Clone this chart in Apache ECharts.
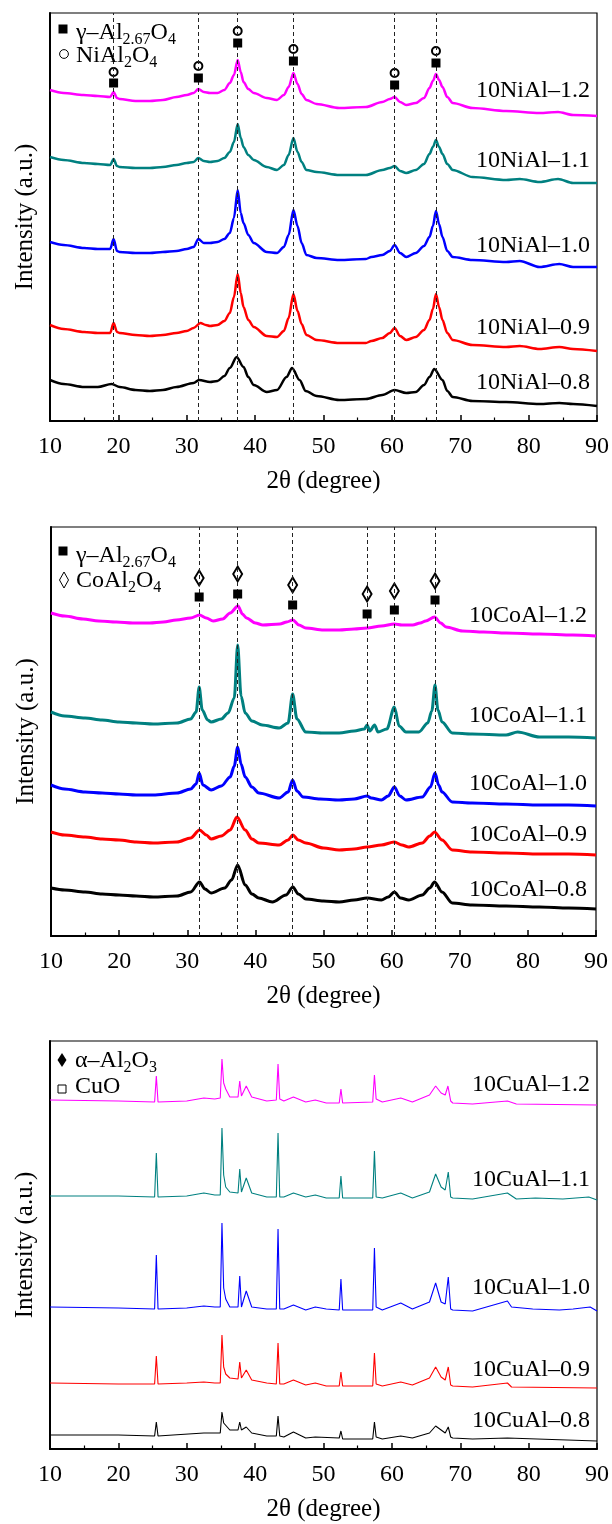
<!DOCTYPE html>
<html><head><meta charset="utf-8">
<script src="https://cdn.jsdelivr.net/npm/echarts@6/dist/echarts.min.js"></script>
<style>html,body{margin:0;padding:0;background:#fff}#c{width:612px;height:1524px}</style>
</head><body><div id="c"></div><script>
const FONT = '"Liberation Serif","Times New Roman",serif';
const xTitle = '2θ (degree)';
const yTitle = 'Intensity (a.u.)';

// ---------- Panel 1 : NiAl ----------
const niNames = ['10NiAl–1.2','10NiAl–1.1','10NiAl–1.0','10NiAl–0.9','10NiAl–0.8'];
const ni12 = [[10,331],[12,328],[14.9,326],[17,325],[18.8,324],[19.3,329],[19.8,323],[20.2,322],[22.5,320],[24.6,320],[26.5,321],[28.5,324],[30,326],[31,328],[31.7,332],[32.5,329],[33.4,328],[34.5,328],[35.5,331],[36.3,338],[36.9,346],[37.45,361],[37.9,349],[38.3,339],[39,332],[39.8,328],[41.7,323],[43.2,321],[44.2,326],[44.9,334],[45.6,348],[46.2,337],[46.8,327],[47.5,321],[49,317],[52.3,313],[56.2,314],[58.6,319],[59.7,322],[60.4,324],[61.2,319],[62.1,316],[63.5,318],[64.7,323],[65.5,333],[66,340],[66.45,347],[66.9,341],[67.4,334],[68.1,324],[68.9,318],[71.8,313],[76.7,310],[81.6,308],[84.3,309],[86.5,306],[90,305]];
const ni11 = [[10,264],[12,261],[15,258],[17,257],[18.8,256],[19.3,262],[19.8,255],[20.2,254],[22.5,253],[24.6,253],[26.5,254],[28.5,256],[30,258],[31,259],[31.7,263],[32.5,260],[33.4,259],[34.5,260],[35.5,263],[36.3,269],[36.9,279],[37.45,297],[37.9,283],[38.3,274],[39,266],[39.8,261],[41.7,254],[43.2,251],[44.2,256],[44.9,266],[45.6,283],[46.2,269],[46.8,259],[47.5,251],[49,249],[52.3,246],[56.2,246],[58.6,251],[59.7,253],[60.4,255],[61.2,250],[62.1,248],[63.5,251],[64.7,257],[65.5,267],[66,274],[66.45,281],[66.9,274],[67.4,267],[68.1,257],[68.9,251],[71.8,244],[76.7,241],[78.7,242],[81.6,239],[84.3,242],[86.5,238],[90,238]];
const ni10 = [[10,179],[12,176],[15,173],[17,172],[18.8,172],[19.3,182],[19.8,170],[20.2,169],[22.5,168],[24.6,168],[26.5,169],[28.5,170],[30,172],[31,174],[31.7,182],[32.5,178],[33.4,178],[34.5,179],[35.5,182],[36.3,188],[36.9,203],[37.45,231],[37.9,208],[38.3,198],[39,186],[39.8,178],[41.7,169],[43.2,168],[44.2,174],[44.9,186],[45.6,211],[46.2,195],[46.8,178],[47.5,166],[49,163],[52.3,161],[56.2,162],[57,164],[58.6,166],[59.7,170],[60.4,176],[61.2,168],[62.1,164],[63.5,168],[64.7,175],[65.5,184],[66,195],[66.45,210],[66.9,197],[67.4,184],[68.1,170],[68.9,164],[71.8,161],[76.7,159],[78.7,160],[81.6,154],[84.5,157],[86.5,154],[90,154]];
const ni09 = [[10,96],[12,92],[15,89],[17,88],[18.8,88],[19.3,98],[19.8,89],[20.2,88],[22.5,86],[24.6,85],[26.5,86],[28.5,88],[30,90],[31,93],[32,98],[32.8,96],[33.4,95],[34.5,96],[35.5,100],[36.3,108],[36.9,124],[37.45,147],[37.9,128],[38.3,114],[39,101],[39.8,94],[41.7,85],[43.2,84],[44.2,90],[44.9,103],[45.6,127],[46.2,110],[46.8,97],[47.5,86],[49,81],[52.3,78],[56.2,78],[57,80],[58.6,83],[59.7,88],[60.4,93],[61.2,85],[62.1,81],[63.5,84],[64.7,91],[65.5,101],[66,112],[66.45,127],[66.9,114],[67.4,101],[68.1,88],[68.9,81],[71.8,76],[76.7,74],[78.7,75],[81.6,72],[84.5,74],[86.5,72],[90,70]];
const ni08 = [[10,41],[12,37],[15,34],[17,34],[19,37],[20.2,34],[22.5,31],[24.6,30],[26.5,31],[28.5,34],[31,38],[31.8,41],[33.4,39],[34.5,40],[35.5,45],[36.3,53],[37.3,64],[38.3,54],[39,44],[39.8,36],[41.7,29],[43.2,31],[44.6,44],[45.4,53],[46.5,41],[47.4,30],[49,25],[52.3,21],[56.2,22],[58.6,26],[60.4,31],[62.1,28],[63.5,29],[64.7,36],[65.5,44],[66.2,52],[67.4,41],[68.1,30],[68.9,24],[71.8,20],[76.7,19],[81.6,17],[84.5,18],[86.5,17],[90,15]];
const niPeaks = [19.3, 31.7, 37.45, 45.6, 60.4, 66.45];
const niSquareY = [338, 343, 378, 360, 336, 358];
const niCircleY = [349, 355, 390, 372, 348, 370];

// ---------- Panel 2 : CoAl ----------
const coNames = ['10CoAl–1.2','10CoAl–1.1','10CoAl–1.0','10CoAl–0.9','10CoAl–0.8'];
const co12 = [[10,323],[12,320],[14.7,317],[17,315],[19.6,314],[22,313],[24.5,313],[26.5,314],[28.4,316],[30.5,318],[31.8,321],[32.8,318],[33.8,315],[35.2,317],[36.3,323],[37.45,330],[38.1,322],[38.7,318],[40,313],[41.1,311],[43.6,312],[44.6,314],[45.5,316],[46.4,311],[47.4,308],[50,306],[52.3,306],[54.5,307],[56.4,308],[58.5,310],[60.4,312],[61.5,311],[63.1,311],[64.2,313],[65,315],[66.3,319],[67.2,313],[68,309],[70.4,305],[73.5,304],[76.8,303],[81.7,302],[86.6,301],[90,300]];
const co11 = [[10,224],[12,220],[15,218],[17.5,216],[20,214],[22.5,213],[25,212],[28.5,213],[30.5,217],[31.3,224],[31.75,249],[32.2,226],[33,216],[33.5,214],[35,217],[36,223],[36.9,238],[37.4,291],[37.9,240],[38.5,223],[39.5,215],[41,211],[43.5,208],[44.8,213],[45.47,242],[46.1,217],[47.4,204],[50,203],[52.3,203],[54.5,205],[56,207],[56.4,211],[56.8,205],[57.5,211],[58,204],[59.3,207],[60.4,229],[61.1,210],[62.1,204],[64,204],[65.3,213],[65.9,225],[66.37,251],[66.8,226],[67.4,214],[68.9,203],[71.8,202],[76.8,201],[78.5,204],[81.7,199],[86,199],[90,198]];
const co10 = [[10,151],[12,147],[15,144],[17.5,143],[20,142],[22.5,141],[25,141],[28.5,143],[30.5,147],[31.3,152],[31.75,163],[32.3,151],[33.5,146],[35,150],[36.3,159],[36.9,170],[37.4,189],[37.9,172],[38.5,159],[39.5,149],[40.5,143],[43.5,138],[44.8,144],[45.47,156],[46.1,145],[47,139],[49.5,137],[52.3,136],[54.5,137],[56.4,140],[57,138],[58.5,136],[59.5,140],[60.4,149],[61.2,140],[62.1,136],[64.5,139],[65.7,149],[66.37,163],[66.9,151],[67.4,144],[68.9,134],[71.8,133],[76.8,132],[81.7,131],[86,131],[90,130]];
const co09 = [[10,104],[12,101],[15,99],[17.5,97],[20,96],[22.5,94],[25,93],[28.5,94],[30.5,98],[31.8,106],[32.8,101],[33.5,97],[35,100],[36.3,106],[37.3,119],[38.5,106],[39.5,97],[40.5,93],[43.5,91],[44.8,96],[45.5,101],[46.3,96],[47.4,93],[50,88],[52.3,86],[54.5,87],[56.4,89],[58.5,91],[60.4,94],[61.5,91],[62.5,89],[64.5,93],[65.6,100],[66.3,104],[67.4,96],[68.9,86],[71.8,84],[76.8,83],[81.7,82],[86,82],[90,81]];
const co08 = [[10,48],[12,46],[15,44],[17.5,42],[20,41],[22.5,40],[25,39],[28.5,40],[30.5,44],[31.8,54],[32.6,47],[33.5,43],[35.5,48],[36.5,56],[37.4,71],[38.5,51],[39.5,42],[40.5,38],[42.5,34],[44.5,41],[45.5,49],[46.3,42],[47.4,37],[50,35],[52.3,34],[54.5,36],[56.4,38],[58.5,36],[59.5,39],[60.4,44],[61.3,38],[62.5,36],[64.5,41],[65.6,48],[66.3,54],[67.4,44],[68.9,33],[71.8,31],[76.8,30],[81.7,29],[86,28],[90,27]];
const coPeaks = [31.75, 37.4, 45.47, 56.4, 60.4, 66.37];
const coSquareY = [339, 342, 331, 322, 326, 336];
const coDiamondY = [358, 362, 351, 342, 345, 355];

// ---------- Panel 3 : CuAl ----------
const cuNames = ['10CuAl–1.2','10CuAl–1.1','10CuAl–1.0','10CuAl–0.9','10CuAl–0.8'];
const cu12 = [[10,349],[20,348],[25.3,347],[25.55,373],[25.8,347],[30,348],[32.5,351],[34.1,350],[34.9,351],[35.15,390],[35.4,366],[35.7,360],[36.3,352],[37.5,352],[37.75,368],[38,353],[38.7,363],[39.5,352],[41.7,348],[43.1,349],[43.35,385],[43.6,350],[44.2,348],[45.6,352],[47.4,347],[48.8,349],[50.4,346],[52.3,346],[52.55,360],[52.8,346],[57.2,347],[57.45,374],[57.7,350],[58.6,347],[61.3,351],[63,347],[65.5,354],[66.4,363],[67.2,356],[67.8,354],[68.2,363],[68.6,348],[68.9,346],[71.8,345],[76.9,348],[78.2,345],[90,344]];
const cu11 = [[10,253],[20,253],[25.3,252],[25.55,296],[25.8,252],[30,253],[32.5,256],[34.1,254],[34.9,254],[35.15,321],[35.4,274],[35.7,262],[36.3,257],[37.5,256],[37.75,280],[38,257],[38.7,271],[39.5,256],[41.7,252],[43.1,252],[43.35,316],[43.6,252],[44.2,252],[45.6,256],[47.4,252],[48.8,254],[50.4,251],[52.3,251],[52.55,273],[52.8,251],[57.2,251],[57.45,298],[57.7,252],[58.6,251],[61.3,256],[63,251],[65.5,257],[66.4,275],[67.2,262],[67.8,259],[68.25,277],[68.6,252],[68.9,251],[71.8,250],[76.9,256],[78.2,250],[81,251],[85,250],[88.8,252],[90,249]];
const cu10 = [[10,142],[20,141],[25.3,140],[25.55,194],[25.8,140],[30,141],[32.5,143],[34.1,142],[34.9,142],[35.15,226],[35.4,161],[35.7,150],[36.3,142],[37.5,142],[37.75,173],[38,142],[38.7,158],[39.5,142],[41.7,140],[43.1,140],[43.35,220],[43.6,140],[44.2,140],[45.6,144],[47.4,139],[48.8,142],[50.4,140],[52.3,139],[52.55,170],[52.8,139],[57.2,139],[57.45,201],[57.7,142],[58.6,139],[61.3,146],[63,140],[65.5,147],[66.4,166],[67.2,147],[67.8,145],[68.25,172],[68.6,140],[68.9,139],[71.8,138],[76.9,148],[77.5,142],[80.6,140],[84.5,139],[86.5,140],[89,142],[90,138]];
const cu09 = [[10,66],[20,65],[25.3,65],[25.55,93],[25.8,65],[30,66],[32.5,67],[34.1,66],[34.9,66],[35.15,114],[35.4,82],[35.7,75],[36.3,71],[37.5,70],[37.75,87],[38,71],[38.7,79],[39.5,69],[41.7,66],[43.1,65],[43.35,106],[43.6,65],[44.2,65],[45.6,69],[47.4,64],[48.8,66],[50.4,63],[52.3,63],[52.55,77],[52.8,63],[57.2,63],[57.45,96],[57.7,65],[58.6,63],[61.3,67],[63,64],[65.5,71],[66.4,82],[67.2,72],[67.8,69],[68.25,82],[68.6,64],[68.9,63],[71.8,62],[76.9,66],[77.5,62],[90,61]];
const cu08 = [[10,14],[20,14],[25.3,13],[25.55,27],[25.8,13],[28,14],[32.5,16],[34.1,16],[34.9,16],[35.15,37],[35.4,26],[36.3,19],[37.5,19],[37.75,27],[38,19],[38.7,22],[39.5,16],[41.7,13],[43.1,13],[43.35,33],[43.6,13],[44.2,12],[45.6,17],[47.4,11],[48.8,12],[52.3,11],[52.55,18],[52.8,10],[57.2,10],[57.45,27],[57.7,12],[58.6,10],[61.3,13],[63,11],[65.5,16],[66.4,23],[67.2,19],[67.8,16],[68.25,22],[68.6,12],[68.9,11],[71.8,10],[76.9,11],[90,8]];

const colors = ['#ff00ff','#008080','#0000ff','#ff0000','#000000'];

const grids = [
  {left:50, top:13, width:547, height:408},
  {left:51, top:527, width:545, height:409},
  {left:50, top:1041, width:547, height:408}
];

function xAx(i){
  return {gridIndex:i, type:'value', min:10, max:90, interval:10,
    axisLine:{show:true, onZero:false, lineStyle:{color:'#000', width:2}},
    axisTick:{show:true, inside:true, length:6, lineStyle:{color:'#000', width:1.5}},
    minorTick:{show:true, splitNumber:2, length:3.5, lineStyle:{color:'#000', width:1.2}},
    axisLabel:{fontSize:24, fontFamily:FONT, color:'#000', margin:14},
    splitLine:{show:false},
    name:xTitle, nameLocation:'middle', nameGap:48,
    nameTextStyle:{fontSize:25, fontFamily:FONT, color:'#000'}};
}
function yAx(i, h){
  return {gridIndex:i, type:'value', min:0, max:h,
    axisLine:{show:true, onZero:false, lineStyle:{color:'#000', width:2}},
    axisTick:{show:false}, axisLabel:{show:false}, splitLine:{show:false},
    name:yTitle, nameLocation:'middle', nameGap:12, nameRotate:90,
    nameTextStyle:{fontSize:25, fontFamily:FONT, color:'#000'}};
}
function curve(name, data, color, gi, w, smooth){
  return {name, type:'line', xAxisIndex:gi, yAxisIndex:gi, data, symbol:'none',
    smooth: smooth, smoothMonotone:'x',
    lineStyle:{color, width:w}, itemStyle:{color}, z:3};
}
const series = [];
[ni12,ni11,ni10,ni09,ni08].forEach((d,k)=>series.push(curve(niNames[k], d, colors[k], 0, 2.5, 0.3)));
[co12,co11,co10,co09,co08].forEach((d,k)=>series.push(curve(coNames[k], d, colors[k], 1, 3, 0.3)));
[cu12,cu11,cu10,cu09,cu08].forEach((d,k)=>series.push(curve(cuNames[k], d, colors[k], 2, 1.1, false)));

const dashStyle = {type:[4,3], color:'#222', width:1};
series.push({type:'scatter', xAxisIndex:0, yAxisIndex:0, symbol:'rect', symbolSize:9,
  itemStyle:{color:'#000', opacity:1}, data:niPeaks.map((x,k)=>[x,niSquareY[k]]), z:5});
series.push({type:'scatter', xAxisIndex:0, yAxisIndex:0, symbol:'emptyCircle', symbolSize:8,
  itemStyle:{color:'#000', borderWidth:0.8, opacity:1}, data:niPeaks.map((x,k)=>[x,niCircleY[k]]), z:2,
  markLine:{silent:true, symbol:'none', label:{show:false}, lineStyle:dashStyle, animation:false,
    data:niPeaks.map(x=>({xAxis:x}))}});
series.push({type:'scatter', xAxisIndex:1, yAxisIndex:1, symbol:'rect', symbolSize:9,
  itemStyle:{color:'#000', opacity:1}, data:coPeaks.map((x,k)=>[x,coSquareY[k]]), z:5});
series.push({type:'scatter', xAxisIndex:1, yAxisIndex:1, symbol:'emptyDiamond', symbolSize:[9,15],
  itemStyle:{color:'#000', borderWidth:0.8, opacity:1}, data:coPeaks.map((x,k)=>[x,coDiamondY[k]]), z:2,
  markLine:{silent:true, symbol:'none', label:{show:false}, lineStyle:dashStyle, animation:false,
    data:coPeaks.map(x=>({xAxis:x}))}});

const rich = {
  a:{fontSize:24, fontFamily:FONT, fill:'#000', color:'#000'},
  b:{fontSize:16, fontFamily:FONT, fill:'#000', color:'#000', padding:[13,0,0,0]}
};
function label(x, y, text){
  return {type:'text', x, y, z:10, style:{text, fontSize:24, fontFamily:FONT, fill:'#000', align:'right', verticalAlign:'middle'}};
}
function legText(x, y, text){
  return {type:'text', x, y, z:10, style:{text, rich, fill:'#000', align:'left', verticalAlign:'middle'}};
}
const graphic = [
  label(590, 91, niNames[0]), label(590, 161, niNames[1]), label(590, 246, niNames[2]), label(590, 328, niNames[3]), label(590, 383, niNames[4]),
  label(587, 616, coNames[0]), label(587, 716, coNames[1]), label(587, 784, coNames[2]), label(587, 835, coNames[3]), label(587, 890, coNames[4]),
  label(590, 1085, cuNames[0]), label(590, 1180, cuNames[1]), label(590, 1288, cuNames[2]), label(590, 1370, cuNames[3]), label(590, 1421, cuNames[4]),
  // legend panel 1
  {type:'rect', shape:{x:58.5, y:24.5, width:9, height:9}, style:{fill:'#000'}},
  legText(76, 33, '{a|γ–Al}{b|2.67}{a|O}{b|4}'),
  {type:'circle', shape:{cx:64, cy:54, r:4.4}, style:{fill:'none', stroke:'#000', lineWidth:1}},
  legText(76, 56, '{a|NiAl}{b|2}{a|O}{b|4}'),
  // legend panel 2
  {type:'rect', shape:{x:58.5, y:546.5, width:9, height:9}, style:{fill:'#000'}},
  legText(76, 556, '{a|γ–Al}{b|2.67}{a|O}{b|4}'),
  {type:'polygon', shape:{points:[[64,572],[68.5,580],[64,588],[59.5,580]]}, style:{fill:'none', stroke:'#000', lineWidth:1}},
  legText(76, 581, '{a|CoAl}{b|2}{a|O}{b|4}'),
  // legend panel 3
  {type:'polygon', shape:{points:[[62,1053],[66.5,1060],[62,1067],[57.5,1060]]}, style:{fill:'#000'}},
  legText(75, 1061, '{a|α–Al}{b|2}{a|O}{b|3}'),
  {type:'rect', shape:{x:58, y:1085, width:8, height:8}, style:{fill:'none', stroke:'#000', lineWidth:1}},
  legText(75, 1087, '{a|CuO}')
];

const chart = echarts.init(document.getElementById('c'), null, {renderer:'canvas'});
chart.setOption({
  animation:false, backgroundColor:'#fff',
  grid: grids.map(g=>Object.assign({show:true, borderColor:'#000', borderWidth:1.2, backgroundColor:'transparent'}, g)),
  xAxis:[xAx(0), xAx(1), xAx(2)],
  yAxis:[yAx(0,408), yAx(1,409), yAx(2,408)],
  series, graphic
});
</script></body></html>
